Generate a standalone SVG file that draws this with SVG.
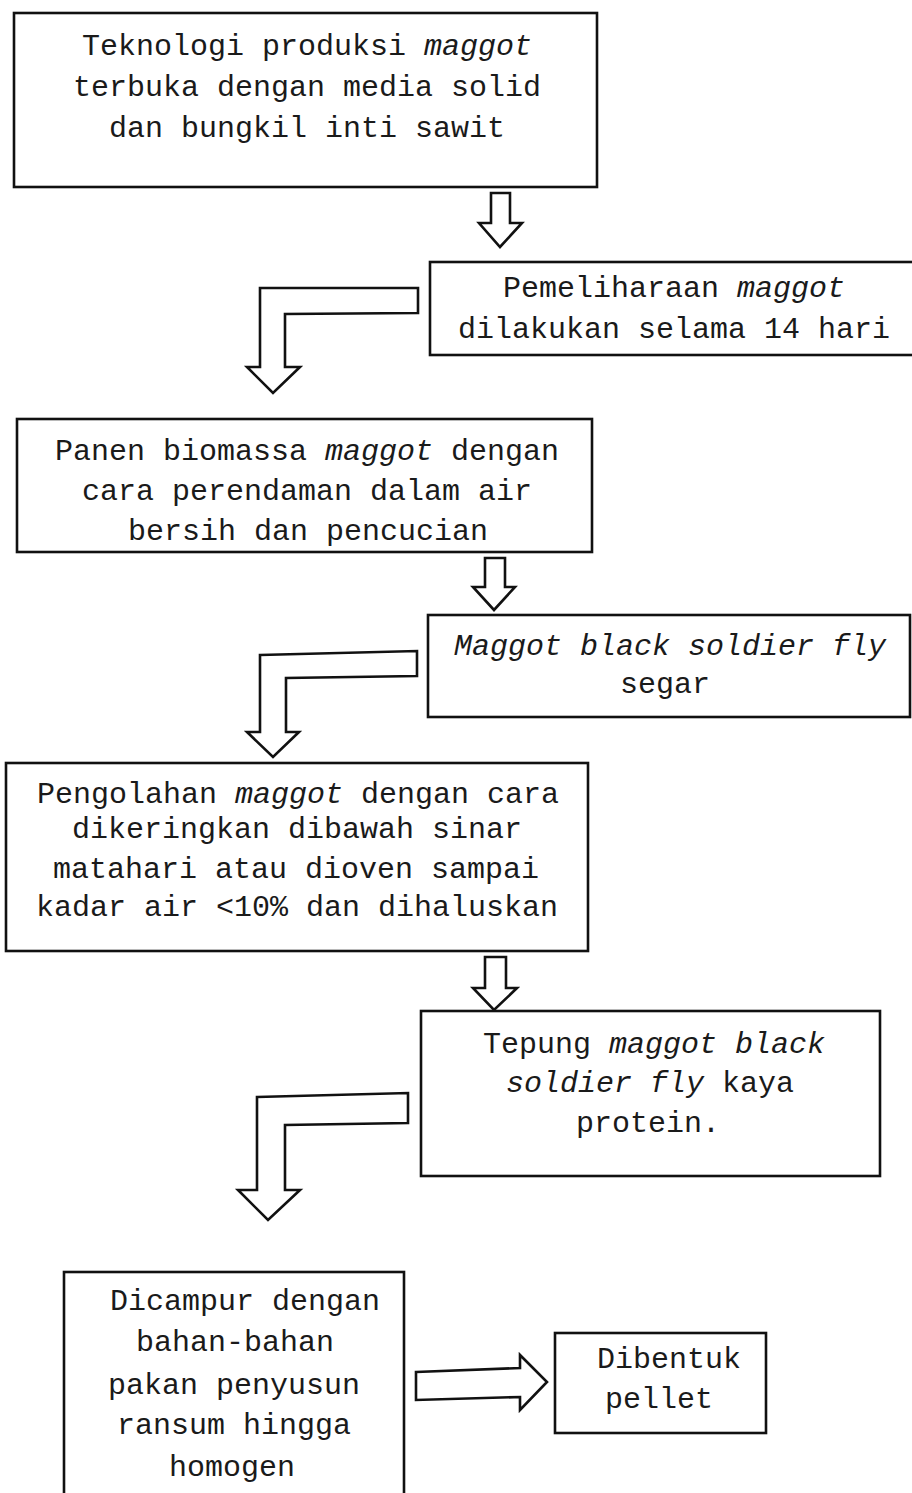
<svg xmlns="http://www.w3.org/2000/svg" width="912" height="1493" viewBox="0 0 912 1493">
<style>
.box{fill:#fff;stroke:#111;stroke-width:2.6}
.arr{fill:#fff;stroke:#111;stroke-width:2.6;stroke-linejoin:miter}
text{font-family:"Liberation Mono","Courier New",monospace;font-size:30px;fill:#1a1a1a;text-anchor:middle}
.i{font-style:italic}
</style>
<rect width="912" height="1493" fill="#fff"/>
<g id="connectors">
<path class="arr" d="M491,193 L510,193 L510,223 L522,223 L500,247 L479,223 L491,223 Z"/>
<path class="arr" d="M260,288 L418,288 L418,313 L285,314 L285,367 L300,367 L273,393 L247,367 L260,367 Z"/>
<path class="arr" d="M485,558 L505,558 L505,587 L515,587 L494,610 L473,587 L485,587 Z"/>
<path class="arr" d="M260,655 L417,651 L417,676 L286,678 L286,732 L299,732 L273,757 L247,732 L260,732 Z"/>
<path class="arr" d="M485,957 L506,957 L506,988 L517,988 L494,1010 L473,988 L485,988 Z"/>
<path class="arr" d="M257,1097 L408,1093 L408,1123 L285,1125 L285,1190 L300,1190 L268,1220 L238,1190 L257,1190 Z"/>
<path class="arr" d="M416,1372 L520,1368 L520,1355 L547,1382 L520,1410 L520,1397 L416,1400 Z"/>
</g>
<g id="n1">
<rect class="box" x="14" y="13" width="583" height="174"/>
<text x="307" y="55">Teknologi produksi <tspan class="i">maggot</tspan></text>
<text x="307" y="96">terbuka dengan media solid</text>
<text x="307" y="137">dan bungkil inti sawit</text>
</g>
<g id="n2">
<rect class="box" x="430" y="262" width="490" height="93"/>
<text x="674" y="297">Pemeliharaan <tspan class="i">maggot</tspan></text>
<text x="674" y="338">dilakukan selama 14 hari</text>
</g>
<g id="n3">
<rect class="box" x="17" y="419" width="575" height="133"/>
<text x="307" y="460">Panen biomassa <tspan class="i">maggot</tspan> dengan</text>
<text x="307" y="500">cara perendaman dalam air</text>
<text x="308" y="540">bersih dan pencucian</text>
</g>
<g id="n4">
<rect class="box" x="428" y="615" width="482" height="102"/>
<text x="670" y="655" class="i">Maggot black soldier fly</text>
<text x="665" y="693">segar</text>
</g>
<g id="n5">
<rect class="box" x="6" y="763" width="582" height="188"/>
<text x="298" y="803">Pengolahan <tspan class="i">maggot</tspan> dengan cara</text>
<text x="297" y="838">dikeringkan dibawah sinar</text>
<text x="296" y="878">matahari atau dioven sampai</text>
<text x="297" y="916">kadar air &lt;10% dan dihaluskan</text>
</g>
<g id="n6">
<rect class="box" x="421" y="1011" width="459" height="165"/>
<text x="654" y="1053">Tepung <tspan class="i">maggot black</tspan></text>
<text x="650" y="1092"><tspan class="i">soldier fly</tspan> kaya</text>
<text x="648" y="1132">protein.</text>
</g>
<g id="n7">
<rect class="box" x="64" y="1272" width="340" height="240"/>
<text x="245" y="1310">Dicampur dengan</text>
<text x="235" y="1351">bahan-bahan</text>
<text x="234" y="1394">pakan penyusun</text>
<text x="234" y="1434">ransum hingga</text>
<text x="232" y="1476">homogen</text>
</g>
<g id="n8">
<rect class="box" x="555" y="1333" width="211" height="100"/>
<text x="669" y="1368">Dibentuk</text>
<text x="659" y="1408">pellet</text>
</g>
</svg>
